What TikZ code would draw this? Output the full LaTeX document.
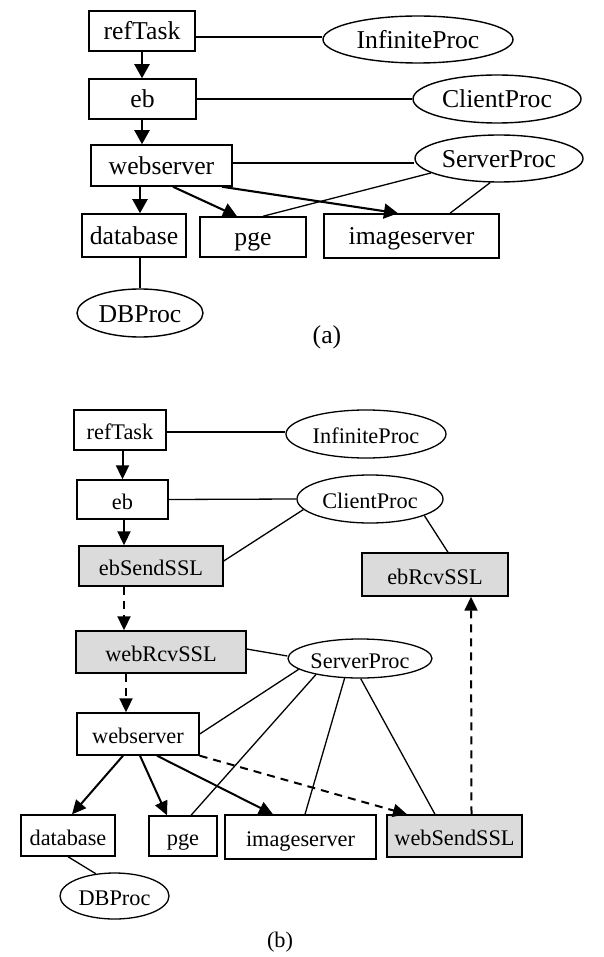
\documentclass[tikz,border=0pt]{standalone}
\usepackage{fontspec}
\setmainfont{Liberation Serif}
\usetikzlibrary{shapes.geometric,arrows.meta}

\tikzset{
  txtA/.style={font=\fontsize{25.7}{30}\selectfont, text height=20.5pt, text depth=2.5pt},
  txtB/.style={font=\fontsize{22.3}{26}\selectfont, text height=20pt, text depth=1pt},
  boxA/.style={draw, line width=1.5pt, rectangle, inner sep=0pt, txtA},
  boxB/.style={draw, line width=1.4pt, rectangle, inner sep=0pt, txtB},
  sslbox/.style={boxB, fill=black!14},
  procA/.style={draw, line width=1.4pt, ellipse, inner sep=0pt, txtA},
  procB/.style={draw, line width=1.3pt, ellipse, inner sep=0pt, txtB},
  link/.style={line width=1.3pt},
  arr/.style={line width=2.1pt, -{Triangle[length=14pt,width=15pt]}},
  arrb/.style={line width=2pt, -{Triangle[length=14pt,width=13pt]}},
  darr/.style={arrb, dash pattern=on 8pt off 6pt},
}

\begin{document}
\begin{tikzpicture}[x=1pt,y=-1pt]
\useasboundingbox (0,0) rectangle (603,957);

% ---------------- (a) ----------------
\node[boxA, minimum width=106pt, minimum height=40pt] (refTaskA) at (142,31) {refTask};
\node[boxA, minimum width=107pt, minimum height=40pt] (ebA) at (142.5,99) {eb};
\node[boxA, minimum width=141pt, minimum height=41pt] (webA) at (161.5,165.5) {webserver};
\node[boxA, minimum width=104pt, minimum height=43pt] (dbA) at (134,235.5) {database};
\node[boxA, minimum width=106pt, minimum height=40pt] (pgeA) at (253,237) {pge};
\node[boxA, minimum width=175pt, minimum height=44pt] (imgA) at (411.5,236) {imageserver};
\node[procA, minimum width=190pt, minimum height=47pt] (infA) at (418,39.5) {InfiniteProc};
\node[procA, minimum width=168pt, minimum height=48pt] (cliA) at (497,99) {ClientProc};
\node[procA, minimum width=168pt, minimum height=47pt] (srvA) at (499,158.5) {ServerProc};
\node[procA, minimum width=126pt, minimum height=48pt] (dbpA) at (140,313) {DBProc};
\node[font=\fontsize{25.7}{30}\selectfont] (capA) at (327,337) {(a)};

\draw[link] ([yshift=-6pt]refTaskA.east) -- ([yshift=2.5pt]infA.west);
\draw[link] (ebA.east) -- (cliA.west);
\draw[link] ([yshift=2.5pt]webA.east) -- ([yshift=-4.5pt]srvA.west);
\draw[link] (srvA.192) -- ([xshift=10pt]pgeA.north);
\draw[link] (srvA.250) -- ([xshift=38.5pt]imgA.north);
\draw[link] ([xshift=6pt]dbA.south) -- (dbpA.north);

\draw[arr] (refTaskA.south) -- (refTaskA.south |- ebA.north);
\draw[arr] ([xshift=-0.5pt]ebA.south) -- ([xshift=-0.5pt]ebA.south |- webA.north);
\draw[arr] ([xshift=-21.5pt]webA.south) -- ([xshift=6pt]dbA.north);
\draw[arr] ([xshift=11.5pt]webA.south) -- ([xshift=-16pt]pgeA.north);
\draw[arr] ([xshift=60.5pt]webA.south) -- ([xshift=-13.5pt]imgA.north);

% ---------------- (b) ----------------
\node[boxB, minimum width=92pt, minimum height=40pt] (refTaskB) at (120,430) {refTask};
\node[boxB, minimum width=91pt, minimum height=39pt] (ebB) at (122.5,499.5) {eb};
\node[sslbox, minimum width=144pt, minimum height=40pt] (ebSendB) at (151,566) {ebSendSSL};
\node[sslbox, minimum width=170pt, minimum height=42pt] (webRcvB) at (161,652) {webRcvSSL};
\node[boxB, minimum width=122pt, minimum height=42pt] (webB) at (138,734) {webserver};
\node[boxB, minimum width=94pt, minimum height=41pt] (dbB) at (68,835.5) {database};
\node[boxB, minimum width=68pt, minimum height=40pt] (pgeB) at (183,836) {pge};
\node[boxB, minimum width=151pt, minimum height=44pt] (imgB) at (300.5,837) {imageserver};
\node[sslbox, minimum width=135pt, minimum height=42pt] (webSendB) at (454.5,836) {webSendSSL};
\node[sslbox, minimum width=146pt, minimum height=43pt] (ebRcvB) at (435,574.5) {ebRcvSSL};
\node[procB, minimum width=160pt, minimum height=48pt] (infB) at (366,434) {InfiniteProc};
\node[procB, minimum width=146pt, minimum height=48pt] (cliB) at (370,499) {ClientProc};
\node[procB, minimum width=144pt, minimum height=39pt] (srvB) at (360,658.5) {ServerProc};
\node[procB, minimum width=109pt, minimum height=46pt] (dbpB) at (114.5,896) {DBProc};
\node[font=\fontsize{22.3}{26}\selectfont] (capB) at (280,942) {(b)};

\draw[link] ([yshift=-2pt]refTaskB.east) -- ([yshift=2pt]infB.west);
\draw[link] (ebB.east) -- (cliB.west);
\draw[link] (cliB.189) -- ([yshift=5pt]ebSendB.east);
\draw[link] (cliB.343) -- ([xshift=13pt]ebRcvB.north);
\draw[link] ([yshift=3pt]webRcvB.east) -- ([yshift=2.5pt]srvB.west);
\draw[link] (srvB.190) -- (webB.east);
\draw[link] (srvB.200) -- ([xshift=8pt]pgeB.north);
\draw[link] (srvB.232) -- ([xshift=4.5pt]imgB.north);
\draw[link] (srvB.272) -- ([xshift=-19.5pt]webSendB.north);
\draw[link] (dbB.south) -- (dbpB.130);

\draw[arrb] ([xshift=2.5pt]refTaskB.south) -- (ebB.north);
\draw[arrb] ([xshift=1.5pt]ebB.south) -- ([xshift=-27pt]ebSendB.north);
\draw[darr] ([xshift=-27pt]ebSendB.south) -- ([xshift=-37pt]webRcvB.north);
\draw[darr] ([xshift=-35pt]webRcvB.south) -- ([xshift=-12pt]webB.north);
\draw[arrb] ([xshift=-15pt]webB.south) -- ([xshift=4pt]dbB.north);
\draw[arrb] ([xshift=2pt]webB.south) -- ([xshift=-16pt]pgeB.north);
\draw[arrb] ([xshift=19pt]webB.south) -- ([xshift=-27.5pt]imgB.north);
\draw[darr] (webB.south east) -- ([xshift=-47.5pt]webSendB.north);
\draw[darr] ([xshift=17pt]webSendB.north) -- ([xshift=36pt]ebRcvB.south);
\end{tikzpicture}
\end{document}
